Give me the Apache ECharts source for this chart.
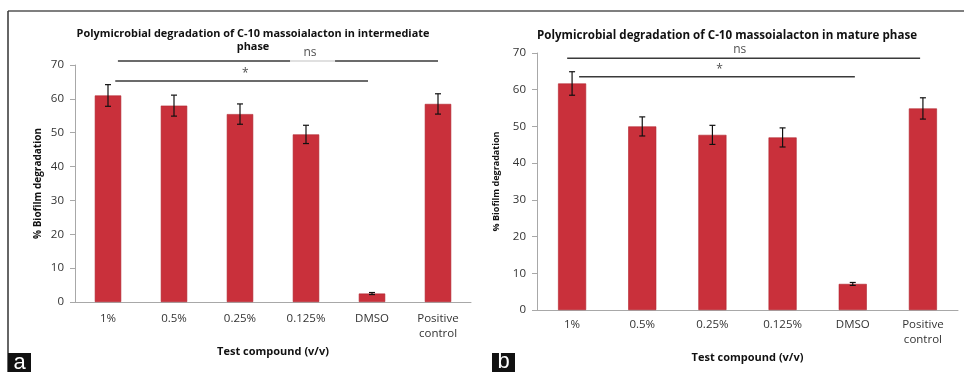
<!DOCTYPE html>
<html>
<head>
<meta charset="utf-8">
<script src="https://cdn.jsdelivr.net/npm/echarts@6/dist/echarts.min.js"></script>
<style>html,body{margin:0;padding:0;background:#fff}#c{width:964px;height:372px}</style>
</head>
<body>
<div id="c"></div>
<script>
const categories = ['1%', '0.5%', '0.25%', '0.125%', 'DMSO', 'Positive\ncontrol'];
const leftMeans = [61, 58, 55.5, 49.5, 2.5, 58.5];
const leftErrors = [3.2, 3.1, 3.0, 2.7, 0.3, 3.0];
const rightMeans = [61.7, 50, 47.7, 47, 7.1, 54.9];
const rightErrors = [3.2, 2.6, 2.6, 2.6, 0.4, 2.9];
const yTicks = { min: 0, max: 70, interval: 10 };
const leftTitle = 'Polymicrobial degradation of C-10 massoialacton in intermediate\nphase';
const rightTitle = 'Polymicrobial degradation of C-10 massoialacton in mature phase';
const yName = '% Biofilm degradation';
const xName = 'Test compound (v/v)';
// significance brackets: [xStart, xEnd, yLevel] in category-index / value units
const leftNsSegments = [[0.15, 2.76, 71.2], [3.44, 5.0, 71.2]];
const leftNsGap = [[2.76, 3.44, 71.2]];
const leftStar = [[0.11, 3.94, 65.3]];
const rightNs = [[-0.07, 4.96, 68.6]];
const rightStar = [[0.1, 4.03, 63.5]];
const leftMarks = [[3.06, 73.8, 'ns'], [2.08, 67.6, '*']];
const rightMarks = [[2.39, 70.8, 'ns'], [2.1, 65.4, '*']];

const chart = echarts.init(document.getElementById('c'));
const font = 'Open Sans';
const barColor = '#C9303B';

function errRender(params, api) {
  const x = api.value(0), m = api.value(1), e = api.value(2);
  const t = api.coord([x, m + e]), b = api.coord([x, m - e]);
  const hw = 3;
  const st = { stroke: '#111', lineWidth: 1.2 };
  return { type: 'group', children: [
    { type: 'line', shape: { x1: t[0], y1: t[1], x2: b[0], y2: b[1] }, style: st },
    { type: 'line', shape: { x1: t[0] - hw, y1: t[1], x2: t[0] + hw, y2: t[1] }, style: st },
    { type: 'line', shape: { x1: b[0] - hw, y1: b[1], x2: b[0] + hw, y2: b[1] }, style: st }
  ]};
}
function segSeries(segs, xi, yi, color) {
  return segs.map(s => ({
    type: 'line', xAxisIndex: xi, yAxisIndex: yi, clip: false, silent: true,
    symbol: 'none', data: [[s[0], s[2]], [s[1], s[2]]],
    lineStyle: { color: color, width: 1.5 }, z: 5
  }));
}
function markSeries(marks, xi, yi) {
  return {
    type: 'scatter', xAxisIndex: xi, yAxisIndex: yi, clip: false, silent: true,
    symbolSize: 0, data: marks.map(m => ({ value: [m[0], m[1]], name: m[2] })),
    label: { show: true, position: 'inside', formatter: p => p.name, fontFamily: font, fontSize: 12, color: '#222' }
  };
}
function catAxis(gi, margin, nameGap) {
  return {
    type: 'category', gridIndex: gi, data: categories,
    axisLine: { onZero: false, lineStyle: { color: '#a8a8a8', width: 1 } },
    axisTick: { show: false },
    axisLabel: { color: '#333', fontFamily: font, fontSize: 11.5, margin: margin, lineHeight: 15 },
    name: xName, nameLocation: 'middle', nameGap: nameGap,
    nameTextStyle: { fontFamily: font, fontWeight: 'bold', fontSize: 11, color: '#111' }
  };
}
function valAxis(gi, nameGap, nameSize) {
  return {
    type: 'value', gridIndex: gi, min: yTicks.min, max: yTicks.max, interval: yTicks.interval,
    splitLine: { show: false },
    axisLine: { show: true, onZero: false, lineStyle: { color: '#a8a8a8', width: 1 } },
    axisTick: { show: true, length: 5, lineStyle: { color: '#a8a8a8' } },
    axisLabel: { color: '#333', fontFamily: font, fontSize: 11.5, margin: 11 },
    name: yName, nameLocation: 'middle', nameGap: nameGap, nameRotate: 90,
    nameTextStyle: { fontFamily: font, fontWeight: 'bold', fontSize: nameSize, color: '#111' }
  };
}
function hiddenX(gi) {
  return { type: 'value', gridIndex: gi, min: -0.5, max: 5.5, show: false };
}

const option = {
  backgroundColor: '#fff',
  animation: false,
  title: [
    { text: leftTitle, left: 248, top: 22, textAlign: 'center',
      textStyle: { fontFamily: font, fontWeight: 'bold', fontSize: 10.9, lineHeight: 13, color: '#111' } },
    { text: rightTitle, left: 722, top: 25, textAlign: 'center',
      textStyle: { fontFamily: font, fontWeight: 'bold', fontSize: 11.6, color: '#111' } }
  ],
  grid: [
    { left: 75, right: 493, top: 65, bottom: 70 },
    { left: 537, right: 6, top: 53, bottom: 62 }
  ],
  xAxis: [catAxis(0, 9, 43), catAxis(1, 7, 36), hiddenX(0), hiddenX(1)],
  yAxis: [valAxis(0, 32, 10), valAxis(1, 36, 9)],
  series: [
    { type: 'bar', xAxisIndex: 0, yAxisIndex: 0, data: leftMeans, barWidth: '40%',
      itemStyle: { color: barColor, borderColor: '#B0242E', borderWidth: 0.6 } },
    { type: 'bar', xAxisIndex: 1, yAxisIndex: 1, data: rightMeans, barWidth: '40%',
      itemStyle: { color: barColor, borderColor: '#B0242E', borderWidth: 0.6 } },
    { type: 'custom', xAxisIndex: 0, yAxisIndex: 0, renderItem: errRender, z: 10,
      data: leftMeans.map((m, i) => [i, m, leftErrors[i]]) },
    { type: 'custom', xAxisIndex: 1, yAxisIndex: 1, renderItem: errRender, z: 10,
      data: rightMeans.map((m, i) => [i, m, rightErrors[i]]) },
    ...segSeries(leftNsSegments, 2, 0, '#3a3a3a'),
    ...segSeries(leftNsGap, 2, 0, '#d6d6d6'),
    ...segSeries(leftStar, 2, 0, '#3a3a3a'),
    ...segSeries(rightNs, 3, 1, '#3a3a3a'),
    ...segSeries(rightStar, 3, 1, '#3a3a3a'),
    markSeries(leftMarks, 2, 0),
    markSeries(rightMarks, 3, 1)
  ],
  graphic: [
    { type: 'line', shape: { x1: 8, y1: 11, x2: 964, y2: 11 }, style: { stroke: '#555', lineWidth: 1.5 } },
    { type: 'line', shape: { x1: 8, y1: 11, x2: 8, y2: 372 }, style: { stroke: '#333', lineWidth: 1.5 } },
    { type: 'rect', shape: { x: 8, y: 353, width: 23, height: 19 }, style: { fill: '#111' } },
    { type: 'text', x: 19.5, y: 362.5, style: { text: 'a', fill: '#fff', fontFamily: 'Liberation Sans', fontSize: 22, align: 'center', verticalAlign: 'middle' } },
    { type: 'rect', shape: { x: 492, y: 353, width: 23, height: 19 }, style: { fill: '#111' } },
    { type: 'text', x: 503.5, y: 361.5, style: { text: 'b', fill: '#fff', fontFamily: 'Liberation Sans', fontSize: 22, align: 'center', verticalAlign: 'middle' } }
  ]
};
chart.setOption(option);
</script>
</body>
</html>
